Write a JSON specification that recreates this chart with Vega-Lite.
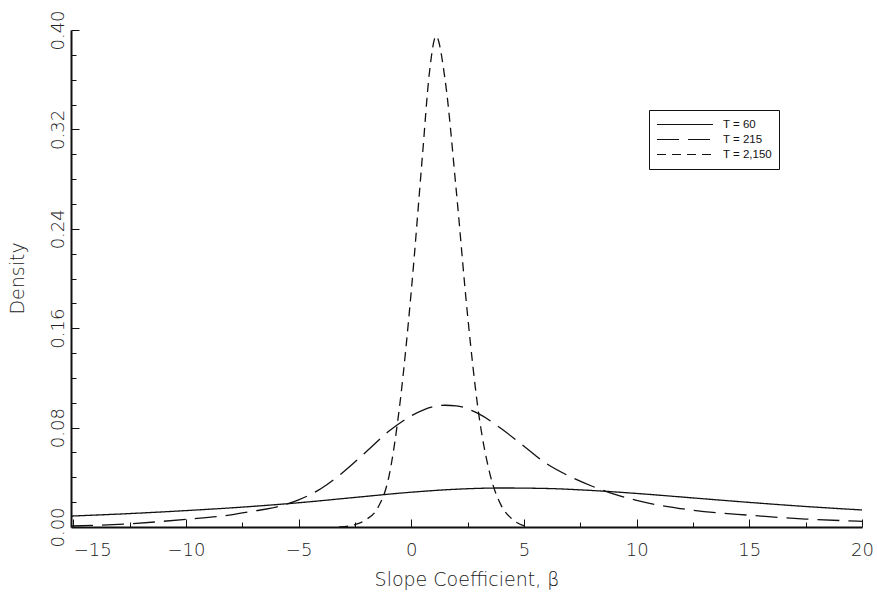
{
  "$schema": "https://vega.github.io/schema/vega-lite/v6.json",
  "width": 791,
  "height": 497,
  "autosize": "none",
  "padding": {"left": 71, "top": 30, "right": 15, "bottom": 68},
  "background": "white",
  "config": {
    "view": {"stroke": null},
    "font": "DejaVu Sans"
  },
  "data": {
    "values": [
      {"series": "T = 60", "x": -15.1, "y": 0.0088},
      {"series": "T = 60", "x": -12.5, "y": 0.0108},
      {"series": "T = 60", "x": -10, "y": 0.0132},
      {"series": "T = 60", "x": -7.5, "y": 0.0160},
      {"series": "T = 60", "x": -5, "y": 0.0195},
      {"series": "T = 60", "x": -2.5, "y": 0.0238},
      {"series": "T = 60", "x": 0, "y": 0.0280},
      {"series": "T = 60", "x": 2, "y": 0.0304},
      {"series": "T = 60", "x": 4, "y": 0.0314},
      {"series": "T = 60", "x": 6, "y": 0.0310},
      {"series": "T = 60", "x": 8, "y": 0.0294},
      {"series": "T = 60", "x": 10, "y": 0.0270},
      {"series": "T = 60", "x": 12.5, "y": 0.0234},
      {"series": "T = 60", "x": 15, "y": 0.0198},
      {"series": "T = 60", "x": 17.5, "y": 0.0165},
      {"series": "T = 60", "x": 20, "y": 0.0137},

      {"series": "T = 215", "x": -15.1, "y": 0.0008},
      {"series": "T = 215", "x": -12.5, "y": 0.0026},
      {"series": "T = 215", "x": -10, "y": 0.0062},
      {"series": "T = 215", "x": -8, "y": 0.0098},
      {"series": "T = 215", "x": -7, "y": 0.0128},
      {"series": "T = 215", "x": -6, "y": 0.0160},
      {"series": "T = 215", "x": -5, "y": 0.0218},
      {"series": "T = 215", "x": -4, "y": 0.0310},
      {"series": "T = 215", "x": -3, "y": 0.0445},
      {"series": "T = 215", "x": -2, "y": 0.0605},
      {"series": "T = 215", "x": -1, "y": 0.0770},
      {"series": "T = 215", "x": 0, "y": 0.0895},
      {"series": "T = 215", "x": 1, "y": 0.0970},
      {"series": "T = 215", "x": 1.5, "y": 0.0980},
      {"series": "T = 215", "x": 2, "y": 0.0975},
      {"series": "T = 215", "x": 3, "y": 0.0910},
      {"series": "T = 215", "x": 4, "y": 0.0790},
      {"series": "T = 215", "x": 5, "y": 0.0650},
      {"series": "T = 215", "x": 6, "y": 0.0510},
      {"series": "T = 215", "x": 7, "y": 0.0410},
      {"series": "T = 215", "x": 8, "y": 0.0330},
      {"series": "T = 215", "x": 9, "y": 0.0265},
      {"series": "T = 215", "x": 10, "y": 0.0215},
      {"series": "T = 215", "x": 11, "y": 0.0175},
      {"series": "T = 215", "x": 12.5, "y": 0.0135},
      {"series": "T = 215", "x": 15, "y": 0.0095},
      {"series": "T = 215", "x": 17.5, "y": 0.0064},
      {"series": "T = 215", "x": 20, "y": 0.0046},

      {"series": "T = 2,150", "x": -3.2, "y": 0.0},
      {"series": "T = 2,150", "x": -2.5, "y": 0.0020},
      {"series": "T = 2,150", "x": -2, "y": 0.0060},
      {"series": "T = 2,150", "x": -1.5, "y": 0.0150},
      {"series": "T = 2,150", "x": -1, "y": 0.0400},
      {"series": "T = 2,150", "x": -0.5, "y": 0.1000},
      {"series": "T = 2,150", "x": 0, "y": 0.1900},
      {"series": "T = 2,150", "x": 0.5, "y": 0.3000},
      {"series": "T = 2,150", "x": 0.8, "y": 0.3650},
      {"series": "T = 2,150", "x": 1.1, "y": 0.3950},
      {"series": "T = 2,150", "x": 1.5, "y": 0.3600},
      {"series": "T = 2,150", "x": 2, "y": 0.2700},
      {"series": "T = 2,150", "x": 2.5, "y": 0.1700},
      {"series": "T = 2,150", "x": 3, "y": 0.0900},
      {"series": "T = 2,150", "x": 3.5, "y": 0.0420},
      {"series": "T = 2,150", "x": 4, "y": 0.0170},
      {"series": "T = 2,150", "x": 4.5, "y": 0.0060},
      {"series": "T = 2,150", "x": 5.2, "y": 0.0}
    ]
  },
  "mark": {"type": "line", "strokeWidth": 1.3, "color": "#111", "interpolate": "monotone", "clip": true},
  "encoding": {
    "x": {
      "field": "x",
      "type": "quantitative",
      "scale": {"domain": [-15.1, 20], "nice": false, "zero": false},
      "axis": {
        "title": "Slope Coefficient, β",
        "titleFont": "DejaVu Sans",
        "titleFontWeight": 200,
        "titleFontSize": 19,
        "titleColor": "#222",
        "titleX": 395.5,
        "titleY": 58,
        "titleAlign": "center",
        "titleBaseline": "alphabetic",
        "values": [-15, -12.5, -10, -7.5, -5, -2.5, 0, 2.5, 5, 7.5, 10, 12.5, 15, 17.5, 20],
        "labelExpr": "round(datum.value*2) % 10 == 0 ? format(datum.value, 'd') : ''",
        "labelFont": "DejaVu Sans",
        "labelFontWeight": 200,
        "labelFontSize": 18,
        "labelColor": "#222",
        "labelBaseline": "alphabetic",
        "labelAlign": {"condition": {"test": "datum.value == -15", "value": "left"}, "value": "center"},
        "labelPadding": 36,
        "labelOverlap": false,
        "labelFlush": false,
        "tickSize": {"condition": {"test": "round(datum.value*2) % 10 == 0", "value": -8}, "value": -5},
        "tickColor": "#111",
        "tickWidth": 1,
        "domainColor": "#111",
        "domainWidth": 2,
        "grid": false
      }
    },
    "y": {
      "field": "y",
      "type": "quantitative",
      "scale": {"domain": [0, 0.4], "nice": false},
      "axis": {
        "title": "Density",
        "titleFont": "DejaVu Sans",
        "titleFontWeight": 200,
        "titleFontSize": 19,
        "titleColor": "#222",
        "titleAngle": 270,
        "titleX": -54,
        "titleY": 248,
        "titleAlign": "center",
        "titleBaseline": "middle",
        "values": [0, 0.02, 0.04, 0.06, 0.08, 0.1, 0.12, 0.14, 0.16, 0.18, 0.2, 0.22, 0.24, 0.26, 0.28, 0.3, 0.32, 0.34, 0.36, 0.38, 0.4],
        "labelExpr": "abs(round(datum.value*100) % 8) == 0 ? format(datum.value, '.2f') : ''",
        "labelFont": "DejaVu Sans",
        "labelFontWeight": 200,
        "labelFontSize": 18,
        "labelColor": "#222",
        "labelAngle": 270,
        "labelAlign": "center",
        "labelBaseline": "alphabetic",
        "labelPadding": 16,
        "labelOverlap": false,
        "tickSize": {"condition": {"test": "abs(round(datum.value*100) % 8) == 0", "value": -8}, "value": -5},
        "tickColor": "#111",
        "tickWidth": 1,
        "domainColor": "#111",
        "domainWidth": 2,
        "grid": false
      }
    },
    "strokeDash": {
      "field": "series",
      "type": "nominal",
      "scale": {"domain": ["T = 60", "T = 215", "T = 2,150"], "range": [[1, 0], [22, 9], [9, 6]]},
      "legend": {
        "title": null,
        "orient": "none",
        "legendX": 578,
        "legendY": 80,
        "padding": 7,
        "strokeColor": "#111",
        "fillColor": "white",
        "symbolType": "stroke",
        "symbolSize": 3136,
        "symbolStrokeWidth": 1.2,
        "symbolStrokeColor": "#111",
        "clipHeight": 15,
        "rowPadding": 0,
        "labelOffset": 9,
        "labelFont": "Liberation Sans",
        "labelFontSize": 11.5,
        "labelColor": "#111"
      }
    }
  }
}
